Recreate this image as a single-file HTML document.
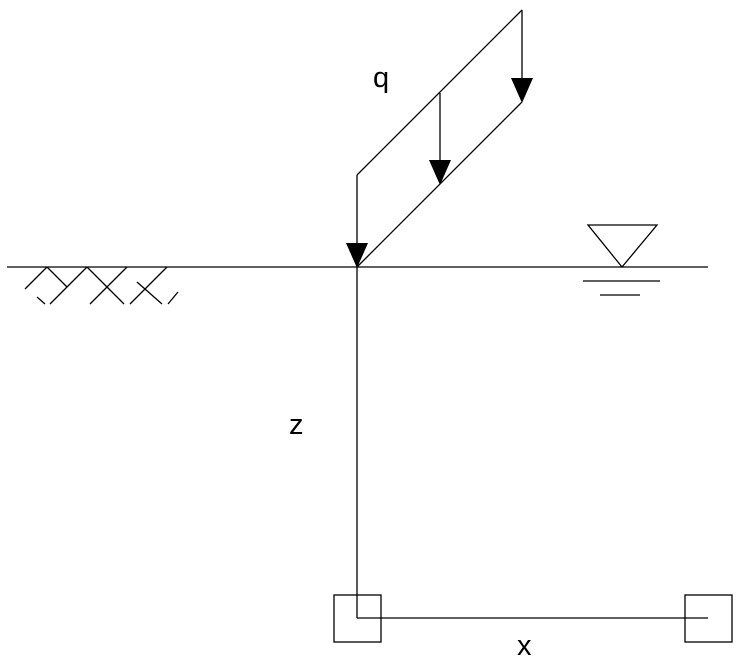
<!DOCTYPE html>
<html><head><style>body{margin:0;background:#fff}svg{display:block}</style></head>
<body>
<svg width="747" height="669" viewBox="0 0 747 669" xmlns="http://www.w3.org/2000/svg">
<g stroke="#000" stroke-width="1.3" fill="none">
<line x1="7" y1="267" x2="708" y2="267"/>
<line x1="47" y1="267" x2="25" y2="289"/>
<line x1="47" y1="267" x2="67" y2="287"/>
<line x1="87" y1="267" x2="50" y2="304"/>
<line x1="87" y1="267" x2="124" y2="304"/>
<line x1="127" y1="267" x2="90" y2="304"/>
<line x1="167" y1="267" x2="130" y2="304"/>
<line x1="137" y1="282" x2="162" y2="304"/>
<line x1="37" y1="297" x2="45" y2="304"/>
<line x1="168" y1="304" x2="178" y2="292"/>
<polygon points="588,225 657,225 622,267"/>
<line x1="583" y1="281" x2="660" y2="281"/>
<line x1="600" y1="295" x2="640" y2="295"/>
<line x1="357" y1="175" x2="357" y2="618"/>
<line x1="357" y1="175" x2="522" y2="10"/>
<line x1="522" y1="10" x2="522" y2="90"/>
<line x1="357" y1="267" x2="522" y2="102"/>
<line x1="440" y1="93" x2="440" y2="170"/>
<line x1="357" y1="618" x2="708" y2="618"/>
<rect x="334" y="595" width="47" height="47"/>
<rect x="685" y="595" width="47" height="47"/>
</g>
<g fill="#000">
<polygon points="346,243 368,243 357,268"/>
<polygon points="511,78 533,78 522,103"/>
<polygon points="429,160 451,160 440,185"/>
</g>
<g font-family="'Liberation Sans', sans-serif" font-size="29" fill="#000">
<text x="373" y="87">q</text>
<text x="289" y="434">z</text>
<text x="517" y="655">x</text>
</g>
</svg>
</body></html>
